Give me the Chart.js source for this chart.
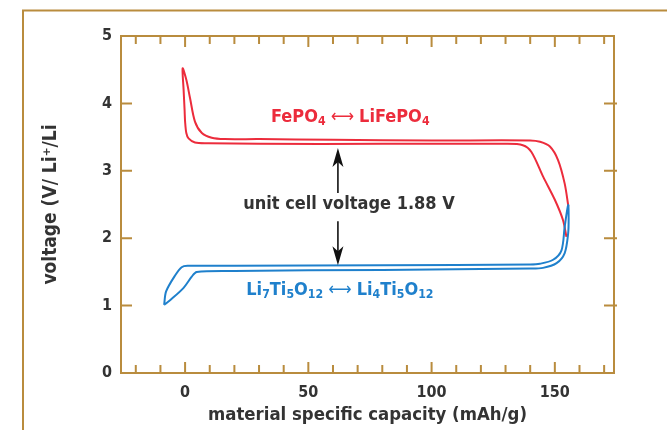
<!DOCTYPE html>
<html>
<head>
<meta charset="utf-8">
<script src="https://cdn.jsdelivr.net/npm/chart.js@4.4.1/dist/chart.umd.min.js"></script>
<style>
  body { margin: 0; background: #fff; }
</style>
</head>
<body>
<canvas id="cv" width="671" height="430"></canvas>
<script>
// FePO4 <-> LiFePO4 loop (red)
var redCapacity = [155.5, 154.0, 151.3, 148.0, 144.0, 140.0, 100, 60, 30, 16, 10.8, 6.8, 4.0, 2.0, 0.5, -1.0,
                   -0.6, -0.2, 0.0, 0.5, 1.4, 4.0, 9.5, 30, 80, 130, 137, 140.5, 145.3, 150.0, 153.3, 154.7];
var redVoltage  = [2.47, 2.81, 3.16, 3.36, 3.43, 3.45, 3.45, 3.46, 3.47, 3.47, 3.49, 3.56, 3.73, 4.08, 4.35, 4.52,
                   4.20, 3.90, 3.73, 3.56, 3.48, 3.42, 3.41, 3.40, 3.40, 3.40, 3.38, 3.28, 2.91, 2.57, 2.27, 2.02];

// Li7Ti5O12 <-> Li4Ti5O12 loop (blue)
var blueCapacity = [-8.5, -7.7, -4.0, -1.4, 1, 20, 80, 140, 143.9, 149.3, 152.7, 154.0, 155.4,
                    155.6, 155.4, 154.0, 150.7, 145.2, 140, 80, 20, 4.7, 2.7, -0.7, -6.1, -8.5];
var blueVoltage  = [1.01, 1.21, 1.45, 1.57, 1.59, 1.59, 1.60, 1.61, 1.62, 1.68, 1.82, 2.17, 2.49,
                    2.30, 2.07, 1.78, 1.63, 1.56, 1.55, 1.53, 1.515, 1.50, 1.43, 1.26, 1.08, 1.01];

var xTickLabels = [0, 50, 100, 150];
var xTickMarks = [-20, -10, 0, 10, 20, 30, 40, 50, 60, 70, 80, 90, 100, 110, 120, 130, 140, 150, 160, 170];
var yTickLabels = [0, 1, 2, 3, 4, 5];
var yTickMarks = [1, 2, 3, 4];

// cell voltage arrow (x, up tip, up tail, down tail, down tip)
var arrowX = 62;
var arrowUp = [3.34, 2.67];
var arrowDown = [2.25, 1.60];

var RED = '#ec2c3c';
var BLUE = '#1f80cc';
var TAN = '#b98c3e';
var INK = '#333333';
var FAMILY = "'DejaVu Sans Condensed', 'DejaVu Sans', sans-serif";

function pts(xs, ys) {
  return xs.map(function (v, i) { return { x: v, y: ys[i] }; });
}

function fontOf(p, size) {
  return (p.thin ? 'normal ' : 'bold ') + (p.sub ? size * 0.68 : size) + 'px ' + FAMILY;
}

function richText(ctx, parts, cx, cy, color, size) {
  var total = 0;
  parts.forEach(function (p) {
    ctx.font = fontOf(p, size);
    p.w = ctx.measureText(p.t).width;
    total += p.w;
  });
  var xx = cx - total / 2;
  ctx.fillStyle = color;
  ctx.textBaseline = 'middle';
  ctx.textAlign = 'left';
  parts.forEach(function (p) {
    ctx.font = fontOf(p, size);
    ctx.fillText(p.t, xx, cy + (p.sub ? size * 0.28 : 0));
    xx += p.w;
  });
}

function arrow(ctx, x, yTail, yTip) {
  var dir = yTip < yTail ? 1 : -1;
  ctx.beginPath();
  ctx.moveTo(x, yTail);
  ctx.lineTo(x, yTip + dir * 10);
  ctx.stroke();
  ctx.beginPath();
  ctx.moveTo(x, yTip);
  ctx.lineTo(x - 5.5, yTip + dir * 19);
  ctx.lineTo(x, yTip + dir * 14);
  ctx.lineTo(x + 5.5, yTip + dir * 19);
  ctx.closePath();
  ctx.fill();
}

var framePlugin = {
  id: 'frame',
  beforeDatasetsDraw: function (chart) {
    var ctx = chart.ctx, a = chart.chartArea, x = chart.scales.x, y = chart.scales.y;
    ctx.save();
    ctx.strokeStyle = TAN;
    ctx.lineWidth = 2;
    ctx.beginPath();
    ctx.moveTo(23, 430);
    ctx.lineTo(23, 10.5);
    ctx.lineTo(667, 10.5);
    ctx.stroke();
    ctx.strokeRect(a.left, a.top, a.right - a.left, a.bottom - a.top);
    xTickMarks.forEach(function (v) {
      var px = x.getPixelForValue(v);
      var len = v % 50 === 0 ? 11 : 8;
      ctx.beginPath();
      ctx.moveTo(px, a.top); ctx.lineTo(px, a.top + len);
      ctx.moveTo(px, a.bottom); ctx.lineTo(px, a.bottom - len);
      ctx.stroke();
    });
    yTickMarks.forEach(function (v) {
      var py = y.getPixelForValue(v);
      ctx.beginPath();
      ctx.moveTo(a.left, py); ctx.lineTo(a.left + 11, py);
      ctx.moveTo(a.right + 3, py); ctx.lineTo(a.right - 10, py);
      ctx.stroke();
    });
    ctx.restore();
  },
  afterDatasetsDraw: function (chart) {
    var ctx = chart.ctx, x = chart.scales.x, y = chart.scales.y;
    ctx.save();
    richText(ctx, [{ t: 'FePO' }, { t: '4', sub: true }, { t: ' \u27F7 ', thin: true }, { t: 'LiFePO' }, { t: '4', sub: true }],
      x.getPixelForValue(67), y.getPixelForValue(3.80), RED, 18);
    richText(ctx, [{ t: 'unit cell voltage 1.88 V' }],
      x.getPixelForValue(66.5), y.getPixelForValue(2.50), INK, 18);
    richText(ctx, [{ t: 'Li' }, { t: '7', sub: true }, { t: 'Ti' }, { t: '5', sub: true }, { t: 'O' }, { t: '12', sub: true },
      { t: ' \u27F7 ', thin: true }, { t: 'Li' }, { t: '4', sub: true }, { t: 'Ti' }, { t: '5', sub: true }, { t: 'O' }, { t: '12', sub: true }],
      x.getPixelForValue(62.8), y.getPixelForValue(1.23), BLUE, 18);
    ctx.strokeStyle = '#111';
    ctx.fillStyle = '#111';
    ctx.lineWidth = 1.6;
    var ax = x.getPixelForValue(arrowX);
    arrow(ctx, ax, y.getPixelForValue(arrowUp[1]), y.getPixelForValue(arrowUp[0]));
    arrow(ctx, ax, y.getPixelForValue(arrowDown[0]), y.getPixelForValue(arrowDown[1]));
    ctx.restore();
  }
};

var tickFont = { family: FAMILY, size: 16, weight: 'bold' };

new Chart(document.getElementById('cv'), {
  type: 'scatter',
  data: {
    datasets: [
      {
        label: 'Li7Ti5O12',
        data: pts(blueCapacity, blueVoltage),
        showLine: true,
        borderColor: BLUE,
        borderWidth: 2,
        pointRadius: 0,
        tension: 0.3
      },
      {
        label: 'FePO4',
        data: pts(redCapacity, redVoltage),
        showLine: true,
        borderColor: RED,
        borderWidth: 2,
        pointRadius: 0,
        tension: 0.3
      }
    ]
  },
  options: {
    responsive: false,
    animation: false,
    layout: { padding: { top: 36, right: 57, left: 0, bottom: 0 } },
    plugins: { legend: { display: false }, tooltip: { enabled: false } },
    scales: {
      x: {
        type: 'linear',
        min: -26,
        max: 174,
        afterBuildTicks: function (s) { s.ticks = xTickLabels.map(function (v) { return { value: v }; }); },
        afterFit: function (s) { s.height = 57; },
        grid: { display: false, drawTicks: false },
        border: { display: false },
        ticks: { color: INK, font: tickFont, padding: 10, maxRotation: 0 },
        title: {
          display: true,
          text: 'material specific capacity (mAh/g)',
          color: INK,
          font: { family: FAMILY, size: 18.4, weight: 'bold' },
          padding: { top: 0, bottom: 4 }
        }
      },
      y: {
        min: 0,
        max: 5,
        afterBuildTicks: function (s) { s.ticks = yTickLabels.map(function (v) { return { value: v }; }); },
        afterFit: function (s) { s.width = 121; },
        grid: { display: false, drawTicks: false },
        border: { display: false },
        ticks: { color: INK, font: tickFont, padding: 9 },
        title: {
          display: true,
          text: 'voltage (V/ Li\u207A/Li',
          color: INK,
          font: { family: FAMILY, size: 19, weight: 'bold' },
          padding: { top: 40, bottom: 0 }
        }
      }
    }
  },
  plugins: [framePlugin]
});
</script>
</body>
</html>
